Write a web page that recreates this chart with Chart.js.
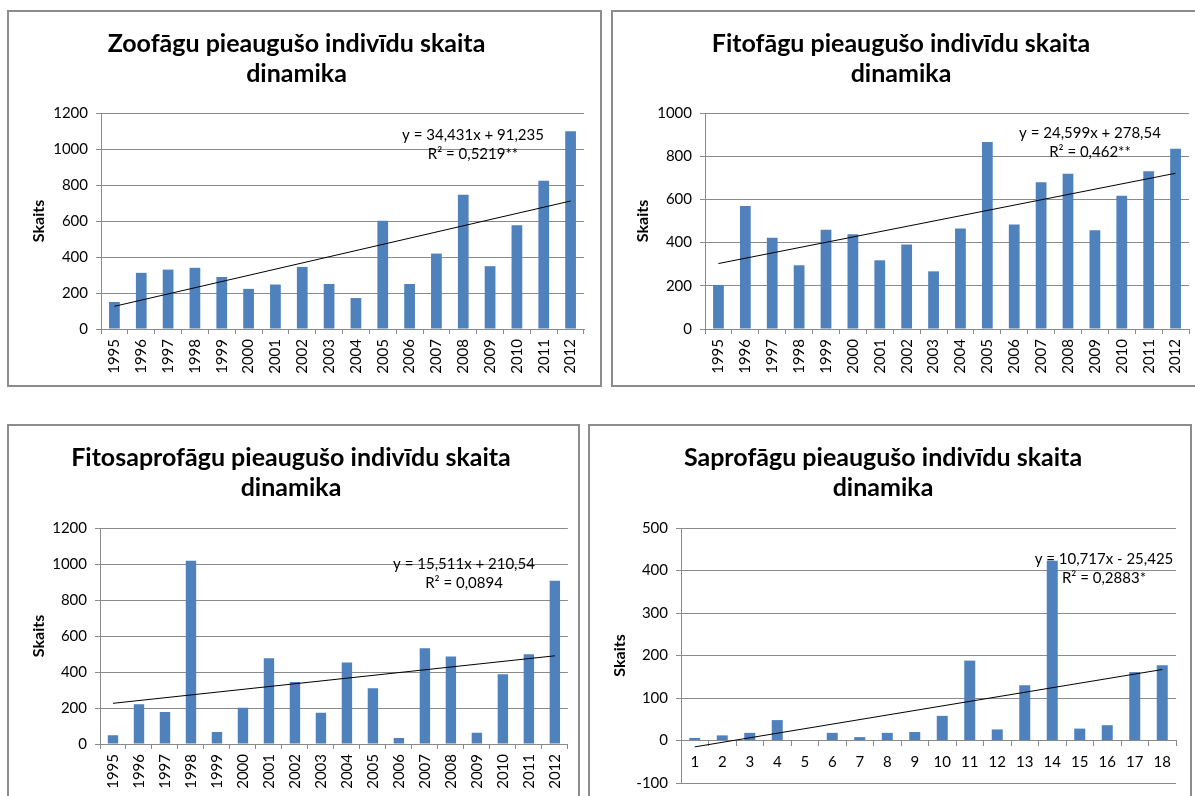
<!DOCTYPE html>
<html><head><meta charset="utf-8">
<script src="https://cdn.jsdelivr.net/npm/chart.js@4.4.1/dist/chart.umd.min.js"></script>
<style>
html,body{margin:0;padding:0;background:#fff;width:1195px;height:796px;overflow:hidden;position:relative;}
.panel{position:absolute;border:2px solid #8c8c8c;box-sizing:border-box;background:#fff;}
canvas{display:block;}
</style></head><body>
<div class="panel" style="left:7px;top:10px;width:595px;height:377px"><canvas id="c1" width="591" height="373"></canvas></div>
<div class="panel" style="left:611px;top:10px;width:592px;height:377px"><canvas id="c2" width="588" height="373"></canvas></div>
<div class="panel" style="left:7px;top:424px;width:573px;height:380px"><canvas id="c3" width="569" height="376"></canvas></div>
<div class="panel" style="left:588px;top:424px;width:604px;height:380px"><canvas id="c4" width="600" height="376"></canvas></div>
<script>
// ---- data ----
const years = ['1995','1996','1997','1998','1999','2000','2001','2002','2003','2004','2005','2006','2007','2008','2009','2010','2011','2012'];
const seasonIdx = ['1','2','3','4','5','6','7','8','9','10','11','12','13','14','15','16','17','18'];

const zoofagi = [150,312,330,340,289,223,247,345,250,172,601,250,419,746,349,577,824,1098];
const fitofagi = [204,570,423,295,459,439,318,391,267,465,866,484,679,719,457,617,730,835];
const fitosaprofagi = [48,221,178,1018,67,202,477,345,174,453,310,33,532,486,63,388,499,907];
const saprofagi = [6,12,18,48,0,18,8,18,20,58,188,26,130,423,28,36,161,177];

// trend line end values (first and last category)
const zoofagiTrend = [126, 711];
const fitofagiTrend = [303, 721];
const fitosaprofagiTrend = [226, 490];
const saprofagiTrend = [-15, 167];

const zoofagiEq = ['y = 34,431x + 91,235', 'R\u00B2 = 0,5219**'];
const fitofagiEq = ['y = 24,599x + 278,54', 'R\u00B2 = 0,462**'];
const fitosaprofagiEq = ['y = 15,511x + 210,54', 'R\u00B2 = 0,0894'];
const saprofagiEq = ['y = 10,717x - 25,425', 'R\u00B2 = 0,2883*'];

const titles = [
  ['Zoof\u0101gu pieaugušo indiv\u012Bdu skaita','dinamika'],
  ['Fitof\u0101gu pieaugušo indiv\u012Bdu skaita','dinamika'],
  ['Fitosaprof\u0101gu pieaugušo indiv\u012Bdu skaita','dinamika'],
  ['Saprof\u0101gu pieaugušo indiv\u012Bdu skaita','dinamika']
];
const yTicks1 = [0,200,400,600,800,1000,1200];
const yTicks2 = [0,200,400,600,800,1000];
const yTicks4 = [-100,0,100,200,300,400,500];

// ---- drawing ----
const FONT = 'Lato, "Open Sans", sans-serif';
const BAR = '#4F81BD';
const GRID = '#8a8a8a';

function trendSeries(n, ends){
  const a = new Array(n).fill(null);
  a[0] = ends[0]; a[n-1] = ends[1];
  return a;
}

const eqPlugin = {
  id: 'eqLabel',
  afterDatasetsDraw(chart, args, opts){
    const ctx = chart.ctx;
    ctx.save();
    ctx.fillStyle = '#000';
    ctx.font = '15px ' + FONT;
    ctx.textAlign = 'center';
    ctx.textBaseline = 'middle';
    opts.lines.forEach((t,i)=>ctx.fillText(t, opts.x, opts.y + i*opts.dy));
    ctx.restore();
  }
};

function makeChart(id, labels, values, trend, eq, title, ticks, g){
  const n = labels.length;
  const rotated = g.rotated;
  new Chart(document.getElementById(id), {
    data: {
      labels: labels,
      datasets: [
        {type:'line', data: trendSeries(n, trend), borderColor:'#000', borderWidth:1, pointRadius:0, spanGaps:true, order:0, tension:0},
        {type:'bar', data: values, backgroundColor: BAR, barPercentage:0.4, categoryPercentage:1.0, order:1}
      ]
    },
    options: {
      responsive:false, animation:false, devicePixelRatio:1,
      layout:{padding:{left:0, right:g.padRight, top:0, bottom:g.padBottom}},
      plugins:{
        legend:{display:false}, tooltip:{enabled:false},
        title:{display:true, text:title, color:'#000', font:{family:FONT, size:25, weight:'bold', lineHeight:1.2}, padding:{top:17, bottom:g.titleBottom}},
        eqLabel:{lines:eq, x:g.eqX, y:g.eqY, dy:19}
      },
      scales:{
        x:{
          type:'category',
          position: g.xAtZero ? {y:0} : 'bottom',
          offset:true,
          grid:{display:true, drawOnChartArea:false, drawTicks:true, tickLength:5, color:GRID, offset:true},
          border:{display:true, color:GRID, width:1},
          ticks:{color:'#000', font:{family:FONT, size:15}, padding: rotated ? 5 : 8, autoSkip:false,
                 maxRotation: rotated ? 90 : 0, minRotation: rotated ? 90 : 0},
          afterFit: g.xHeight ? (s)=>{ s.height = g.xHeight; } : undefined
        },
        y:{
          type:'linear', min: ticks[0], max: ticks[ticks.length-1],
          afterBuildTicks:(s)=>{ s.ticks = ticks.map(v=>({value:v})); },
          grid:{color:GRID, lineWidth:1, tickLength:5, drawTicks:true},
          border:{display:true, color:GRID, width:1},
          ticks:{color:'#000', font:{family:FONT, size:15}, padding:8, callback:(v)=>String(v)},
          title:{display:true, text:'Skaits', color:'#000', font:{family:FONT, size:16, weight:'bold', lineHeight:1.2}, padding:{top:20.4, bottom:0}},
          afterFit:(s)=>{ s.width = g.yWidth; }
        }
      }
    },
    plugins:[eqPlugin]
  });
}

makeChart('c1', years, zoofagi, zoofagiTrend, zoofagiEq, titles[0], yTicks1,
  {rotated:true, padRight:16, padBottom:0, titleBottom:24, yWidth:92, xHeight:56, eqX:464, eqY:123});
makeChart('c2', years, fitofagi, fitofagiTrend, fitofagiEq, titles[1], yTicks2,
  {rotated:true, padRight:12, padBottom:0, titleBottom:24, yWidth:92, xHeight:56, eqX:477, eqY:121});
makeChart('c3', years, fitosaprofagi, fitosaprofagiTrend, fitosaprofagiEq, titles[2], yTicks1,
  {rotated:true, padRight:5, padBottom:0, titleBottom:25, yWidth:91, xHeight:58, eqX:455, eqY:138});
makeChart('c4', seasonIdx, saprofagi, saprofagiTrend, saprofagiEq, titles[3], yTicks4,
  {rotated:false, padRight:14, padBottom:19, titleBottom:25, yWidth:91, xAtZero:true, eqX:514, eqY:133});
</script>
</body></html>
